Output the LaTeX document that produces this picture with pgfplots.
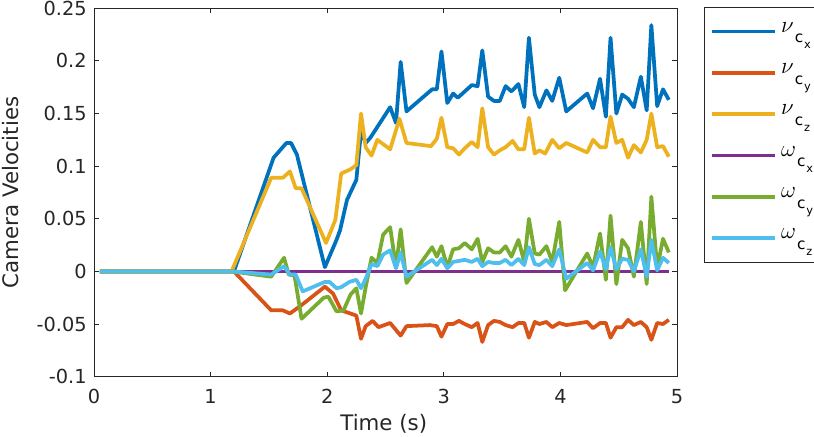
\documentclass[border=0pt]{standalone}
\usepackage{fontspec}
\setmainfont{DejaVu Sans}
\usepackage{pgfplots}
\pgfplotsset{compat=1.18}
\definecolor{c1}{rgb}{0,0.447,0.741}
\definecolor{c2}{rgb}{0.850,0.325,0.098}
\definecolor{c3}{rgb}{0.929,0.694,0.125}
\definecolor{c4}{rgb}{0.494,0.184,0.556}
\definecolor{c5}{rgb}{0.466,0.674,0.188}
\definecolor{c6}{rgb}{0.301,0.745,0.933}
\definecolor{axgray}{rgb}{0.15,0.15,0.15}
\newcommand{\legtxt}[3]{$#1$\kern0.8pt\raisebox{-8pt}{\fontsize{11.5}{12}\selectfont #2\kern0.6pt\raisebox{-4.5pt}{\fontsize{8.5}{9}\selectfont #3}}}
\begin{document}
\begin{tikzpicture}
\begin{axis}[
  scale only axis, width=437.25pt, height=276.3pt,
  xmin=0, xmax=5, ymin=-0.1, ymax=0.25,
  xtick={0,1,2,3,4,5},
  ytick={-0.1,-0.05,0,0.05,0.1,0.15,0.2,0.25},
  yticklabels={-0.1,-0.05,0,0.05,0.1,0.15,0.2,0.25},
  scaled y ticks=false,
  /pgf/number format/assume math mode=true,
  tick align=inside, major tick length=3.75pt,
  axis line style={axgray, line width=0.6pt},
  tick style={axgray, line width=0.6pt},
  ticklabel style={font=\fontsize{14.5}{17}\selectfont, text=axgray},
  xticklabel style={yshift=-6pt},
  yticklabel style={xshift=-2pt},
  xlabel={Time (s)}, ylabel={Camera Velocities},
  label style={font=\fontsize{16}{19}\selectfont, text=axgray},
  xlabel style={at={(axis description cs:0.497,-0.128)}, anchor=center},
  ylabel style={at={(axis description cs:-0.144,0.5)}, anchor=center},
  legend style={at={(1.0463,1.0027)}, anchor=north west, draw=axgray, line width=0.6pt,
    inner xsep=4.3pt, inner ysep=6.4pt, row sep=8pt,
    font=\fontsize{16}{18}\selectfont,
    nodes={inner xsep=3.5pt, inner ysep=0pt, text height=12pt, text depth=11pt, text width=18.7pt}},
  legend cell align=left,
  legend image code/.code={\draw[#1] (0pt,0pt) -- (47pt,0pt);},
  every axis plot/.append style={line width=2.8pt, line join=round},
  clip=true,
]
\coordinate (bl) at (rel axis cs:0,0);
\addplot[c1] coordinates {
(0.05,0) (1.20,0) (1.54,0.108) (1.65,0.122) (1.69,0.122) (1.74,0.111) (1.98,0.004)
(2.08,0.030) (2.11,0.039) (2.17,0.068) (2.25,0.087) (2.29,0.133) (2.33,0.122) (2.37,0.127)
(2.54,0.156) (2.59,0.141) (2.63,0.199) (2.68,0.152) (2.90,0.173) (2.94,0.173) (2.98,0.209)
(3.03,0.160) (3.08,0.169) (3.12,0.165) (3.24,0.177) (3.29,0.176) (3.33,0.210) (3.38,0.166)
(3.43,0.162) (3.48,0.162) (3.53,0.176) (3.58,0.171) (3.64,0.178) (3.69,0.156) (3.73,0.222)
(3.78,0.168) (3.82,0.156) (3.88,0.172) (3.93,0.162) (3.99,0.184) (4.05,0.152) (4.23,0.169)
(4.28,0.155) (4.34,0.183) (4.39,0.147) (4.43,0.222) (4.48,0.150) (4.53,0.168) (4.58,0.164)
(4.63,0.156) (4.69,0.185) (4.74,0.153) (4.78,0.234) (4.83,0.157) (4.88,0.173) (4.93,0.163)
};
\addlegendentry{\legtxt{\nu}{c}{x}}
\addplot[c2] coordinates {
(0.05,0) (1.20,0) (1.52,-0.037) (1.62,-0.037) (1.68,-0.040) (1.78,-0.032) (1.98,-0.0145)
(2.05,-0.021) (2.12,-0.037) (2.20,-0.040) (2.25,-0.042) (2.29,-0.064) (2.33,-0.052) (2.39,-0.047)
(2.44,-0.053) (2.54,-0.049) (2.63,-0.061) (2.68,-0.052) (2.88,-0.051) (2.94,-0.052) (2.98,-0.062)
(3.03,-0.050) (3.08,-0.050) (3.13,-0.047) (3.18,-0.050) (3.24,-0.053) (3.29,-0.049) (3.33,-0.067)
(3.38,-0.051) (3.43,-0.047) (3.48,-0.048) (3.53,-0.051) (3.59,-0.053) (3.64,-0.049) (3.69,-0.049)
(3.73,-0.063) (3.78,-0.048) (3.82,-0.050) (3.88,-0.048) (3.93,-0.053) (3.99,-0.049) (4.05,-0.051)
(4.23,-0.048) (4.28,-0.054) (4.34,-0.049) (4.39,-0.049) (4.43,-0.063) (4.48,-0.053) (4.53,-0.053)
(4.58,-0.046) (4.63,-0.051) (4.69,-0.048) (4.74,-0.053) (4.78,-0.065) (4.83,-0.049) (4.88,-0.050)
(4.93,-0.046)
};
\addlegendentry{\legtxt{\nu}{c}{y}}
\addplot[c3] coordinates {
(0.05,0) (1.18,0) (1.52,0.089) (1.62,0.089) (1.68,0.095) (1.73,0.079) (1.78,0.079) (1.99,0.027)
(2.07,0.049) (2.12,0.093) (2.20,0.097) (2.25,0.101) (2.29,0.150) (2.33,0.118) (2.38,0.110)
(2.43,0.125) (2.54,0.116) (2.62,0.145) (2.68,0.122) (2.89,0.119) (2.94,0.126) (2.98,0.146)
(3.03,0.118) (3.08,0.117) (3.13,0.111) (3.18,0.117) (3.24,0.123) (3.29,0.118) (3.33,0.155)
(3.38,0.118) (3.43,0.111) (3.48,0.115) (3.53,0.118) (3.59,0.124) (3.64,0.116) (3.69,0.116)
(3.73,0.146) (3.78,0.112) (3.82,0.115) (3.87,0.112) (3.93,0.125) (3.99,0.117) (4.05,0.122)
(4.23,0.113) (4.28,0.125) (4.34,0.118) (4.39,0.118) (4.43,0.147) (4.48,0.122) (4.53,0.125)
(4.58,0.108) (4.63,0.120) (4.69,0.113) (4.74,0.125) (4.78,0.150) (4.83,0.118) (4.88,0.119)
(4.93,0.109)
};
\addlegendentry{\legtxt{\nu}{c}{z}}
\addplot[c4] coordinates {(0.05,0) (4.93,0)};
\addlegendentry{\legtxt{\omega}{c}{x}}
\addplot[c5] coordinates {
(0.05,0) (1.18,0) (1.52,-0.005) (1.63,0.013) (1.67,-0.003) (1.72,-0.004) (1.78,-0.045)
(1.97,-0.025) (2.01,-0.024) (2.08,-0.038) (2.14,-0.037) (2.20,-0.022) (2.25,-0.016) (2.29,-0.040)
(2.33,-0.015) (2.38,0.013) (2.43,0.008) (2.48,0.035) (2.54,0.042) (2.59,0.004) (2.63,0.040)
(2.68,-0.011) (2.90,0.023) (2.94,0.014) (2.98,0.024) (3.03,0.004) (3.08,0.021) (3.13,0.022)
(3.18,0.027) (3.24,0.021) (3.29,0.031) (3.33,0.009) (3.38,0.022) (3.43,0.018) (3.48,0.018)
(3.53,0.024) (3.58,0.014) (3.64,0.030) (3.69,0.009) (3.73,0.050) (3.78,0.017) (3.82,0.016)
(3.88,0.024) (3.93,0.009) (3.99,0.047) (4.04,-0.018) (4.23,0.017) (4.28,0.004) (4.34,0.036)
(4.39,-0.008) (4.43,0.053) (4.48,-0.012) (4.53,0.030) (4.58,0.022) (4.63,-0.005) (4.69,0.047)
(4.74,-0.012) (4.78,0.071) (4.83,0.003) (4.88,0.031) (4.93,0.018)
};
\addlegendentry{\legtxt{\omega}{c}{y}}
\addplot[c6] coordinates {
(0.05,0) (1.18,0) (1.52,-0.003) (1.63,0.005) (1.68,-0.003) (1.73,-0.003) (1.79,-0.019)
(1.98,-0.010) (2.02,-0.010) (2.08,-0.016) (2.12,-0.015) (2.19,-0.010) (2.25,-0.008) (2.29,-0.016)
(2.33,-0.007) (2.38,0.007) (2.43,0.005) (2.48,0.016) (2.54,0.020) (2.59,0.003) (2.63,0.018)
(2.68,-0.005) (2.90,0.011) (2.94,0.006) (2.98,0.012) (3.03,0.003) (3.08,0.009) (3.13,0.010)
(3.18,0.011) (3.24,0.009) (3.29,0.012) (3.33,0.005) (3.38,0.009) (3.43,0.008) (3.48,0.008)
(3.53,0.011) (3.58,0.006) (3.64,0.012) (3.69,0.006) (3.73,0.023) (3.78,0.007) (3.82,0.006)
(3.88,0.011) (3.93,0.005) (3.99,0.021) (4.05,-0.007) (4.23,0.008) (4.28,0.001) (4.34,0.019)
(4.39,0.002) (4.43,0.023) (4.48,0.002) (4.53,0.012) (4.58,0.011) (4.63,0.000) (4.69,0.021)
(4.74,-0.005) (4.78,0.030) (4.83,0.001) (4.88,0.013) (4.93,0.008)
};
\addlegendentry{\legtxt{\omega}{c}{z}}
\end{axis}
\pgfresetboundingbox
\path ([shift={(-70.5pt,-44.5pt)}]bl) rectangle ++(610.5pt,327pt);
\end{tikzpicture}
\end{document}
